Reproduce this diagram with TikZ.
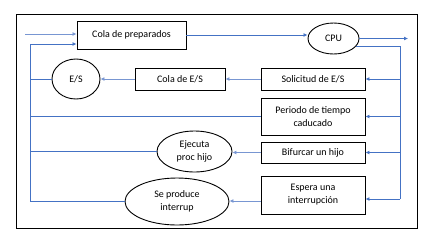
\documentclass[tikz,border=0pt]{standalone}
\usepackage{fontspec}
\setmainfont{Carlito}
\usetikzlibrary{arrows.meta,shapes.geometric}
\definecolor{lnblue}{RGB}{68,114,196}
\definecolor{ltblue}{RGB}{120,150,210}
\tikzset{
  box/.style={draw=black,line width=0.9pt,rectangle,align=center,inner sep=1pt,font=\fontsize{10}{13}\selectfont},
  ell/.style={draw=black,line width=0.9pt,ellipse,align=center,inner sep=0pt,font=\fontsize{10}{13}\selectfont},
  conn/.style={draw=lnblue,line width=0.8pt},
  arr/.style={conn,-{Latex[length=4pt,width=4pt]}},
  larr/.style={draw=ltblue,line width=0.8pt,-{Latex[length=4pt,width=4pt]}}
}
\begin{document}
\begin{tikzpicture}[x=1pt,y=-1pt]
\useasboundingbox (0,0) rectangle (427,231);
\draw[line width=0.9pt] (16,14) rectangle (417,228);
% nodes
\node[box,minimum width=109pt,minimum height=28pt] (cp) at (131.5,35) {Cola de preparados};
\node[ell,minimum width=51pt,minimum height=31pt] (cpu) at (333.5,38.5) {CPU};
\node[ell,minimum width=48pt,minimum height=40pt] (es) at (76,79) {E/S};
\node[box,minimum width=90pt,minimum height=22pt] (ces) at (180,79) {Cola de E/S};
\node[box,minimum width=104pt,minimum height=22pt] (sol) at (313,79) {Solicitud de E/S};
\node[box,minimum width=104pt,minimum height=37pt] (per) at (313,116.5) {Periodo de tiempo\\caducado};
\node[box,minimum width=104pt,minimum height=21pt] (bif) at (313,152.5) {Bifurcar un hijo};
\node[box,minimum width=104pt,minimum height=38pt] (esp) at (313,195) {Espera una\\interrupción};
\node[ell,minimum width=75pt,minimum height=41pt] (ej) at (194.5,151.5) {Ejecuta\\proc hijo};
\node[ell,minimum width=104pt,minimum height=47pt] (sp) at (177,201.5) {Se produce\\interrup};
% coordinates
\coordinate (in) at (25,34);
\coordinate (out) at (408,35);
\coordinate (R) at (400,44);
\coordinate (L) at (30,44);
% top flow
\draw[larr] (in) -- (in -| cp.west);
\draw[arr] (cp.east) -- (cp.east -| cpu.west);
\draw[arr] (cpu.east) -- (cpu.east -| out);
% right bus
\draw[conn] (cpu.-20) -- (cpu.-20 -| R) -- ([yshift=-4pt]esp.east -| R);
\draw[arr] (sol.east -| R) -- (sol.east);
\draw[arr] (per.east -| R) -- (per.east);
\draw[arr] (bif.east -| R) -- (bif.east);
\draw[arr] ([yshift=-4pt]esp.east -| R) -- ([yshift=-4pt]esp.east);
% leftward arrows
\draw[larr] (sol.west) -- (ces.east);
\draw[larr] (ces.west) -- (es.east);
\draw[larr] (bif.west) -- (bif.west -| ej.east);
\draw[larr] ([yshift=-6pt]esp.west) -- ([yshift=-6pt]esp.west -| sp.east);
% left bus
\draw[arr] (sp.west) -- (sp.west -| L) -- (L) -- (L -| cp.west);
\draw[conn] (es.west) -- (es.west -| L);
\draw[conn] (per.west) -- (per.west -| L);
\draw[conn] (ej.west) -- (ej.west -| L);
\end{tikzpicture}
\end{document}
